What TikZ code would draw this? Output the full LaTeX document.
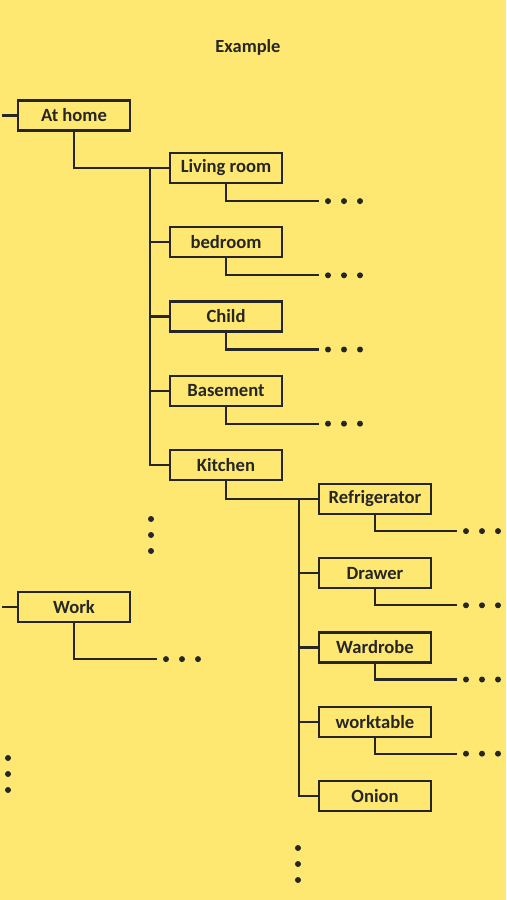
\documentclass[tikz,border=0pt]{standalone}
\usepackage{fontspec}
\setmainfont{Carlito}
\usepackage{xcolor}
\usetikzlibrary{positioning}
\definecolor{padyellow}{RGB}{254,232,114}
\definecolor{inkgray}{RGB}{38,38,38}

\begin{document}
\begin{tikzpicture}[
    node distance=0.84cm,
    room/.style={rectangle, draw=inkgray, line width=1.25pt, minimum width=2.24cm, minimum height=0.6cm, inner sep=0pt, font=\bfseries\fontsize{10.6}{12}\selectfont, text=inkgray},
    link/.style={draw=inkgray, line width=1.25pt},
    more/.style={fill=inkgray},
]

% background and frame
\fill[padyellow] (0,0) rectangle (10.12,-18);
\useasboundingbox (0,0) rectangle (10.12,-18);

\node[font=\bfseries\fontsize{10.5}{12}\selectfont, text=inkgray] (title) at (4.96,-0.94) {Example};

\node[room] (home) at (1.48,-2.31) {At home};
\node[room] (work) at (1.48,-12.14) {Work};

\node[room] (living)   at (4.52,-3.36)      {Living room};
\node[room, below=of living]   (bedroom)  {bedroom};
\node[room, below=of bedroom]  (child)    {Child};
\node[room, below=of child]    (basement) {Basement};
\node[room, below=of basement] (kitchen)  {Kitchen};

\node[room] (fridge)   at (7.50,-9.98)     {Refrigerator};
\node[room, below=of fridge]   (drawer)    {Drawer};
\node[room, below=of drawer]   (wardrobe)  {Wardrobe};
\node[room, below=of wardrobe] (worktable) {worktable};
\node[room, below=of worktable] (onion)    {Onion};

% stubs on the left
\draw[link] (home.west) -- ++(-0.3,0);
\draw[link] (work.west) -- ++(-0.3,0);

% first level
\draw[link] (home.south) |- (living.west);
\draw[link] ([xshift=-0.38cm]living.west) |- (kitchen.west);
\foreach \n in {bedroom, child, basement}
    \draw[link] ([xshift=-0.38cm]\n.west) -- (\n.west);

% second level
\draw[link] (kitchen.south) |- (fridge.west);
\draw[link] ([xshift=-0.38cm]fridge.west) |- (onion.west);
\foreach \n in {drawer, wardrobe, worktable}
    \draw[link] ([xshift=-0.38cm]\n.west) -- (\n.west);

% leaves going on
\foreach \n/\len/\drop in {living/1.86/0.34, bedroom/1.86/0.34, child/1.86/0.34, basement/1.86/0.34,
                     fridge/1.64/0.32, drawer/1.64/0.32, wardrobe/1.64/0.32, worktable/1.64/0.32, work/1.66/0.72} {
    \draw[link] (\n.south) -- ++(0,-\drop) -- ++(\len,0) coordinate (\n-end);
    \foreach \k in {1,2,3}
        \fill[more] ([xshift={0.18cm+(\k-1)*0.32cm}]\n-end) circle (0.06);
}

% more items below
\coordinate (moreA) at (3.02,-10.38);
\coordinate (moreB) at (0.16,-15.16);
\coordinate (moreC) at (5.96,-16.96);
\foreach \c in {moreA, moreB, moreC}
    \foreach \k in {0,1,2}
        \fill[more] ([yshift={-\k*0.32cm}]\c) circle (0.06);

\end{tikzpicture}
\end{document}
